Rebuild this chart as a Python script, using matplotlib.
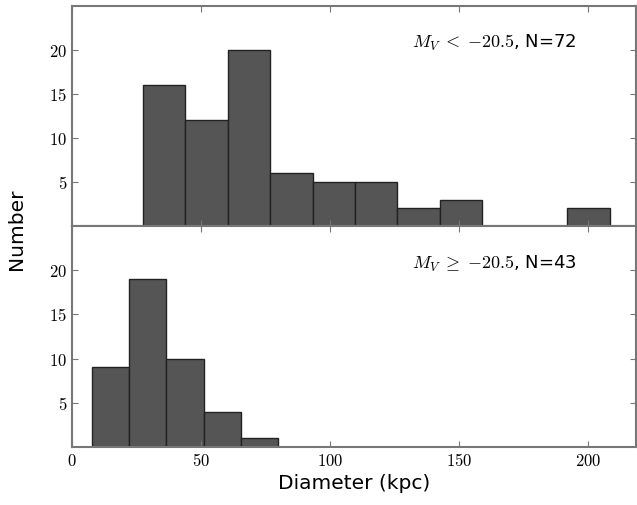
import matplotlib
matplotlib.use("Agg")
import matplotlib.pyplot as plt
from matplotlib.ticker import FuncFormatter
import numpy as np

# bin edges and counts
bright_edges = np.linspace(27.4, 208.3, 12)
bright_counts = [16, 12, 20, 6, 5, 5, 2, 3, 0, 0, 2]
faint_edges = np.linspace(7.6, 80.0, 6)
faint_counts = [9, 19, 10, 4, 1]

bright_label = r"$M_V\;<\;{-}20.5$, N=72"
faint_label = r"$M_V\;\geq\;{-}20.5$, N=43"

plt.rcParams['mathtext.fontset'] = 'cm'

fig = plt.figure(figsize=(6.37, 5.05), dpi=100)
ax1 = fig.add_axes([72/637, 1 - 226/505, 564/637, 220/505])
ax2 = fig.add_axes([72/637, 1 - 447/505, 564/637, 221/505], sharex=ax1)

mathfmt = FuncFormatter(lambda v, p: r"$%g$" % v)

for ax, edges, counts, label in [(ax1, bright_edges, bright_counts, bright_label),
                                 (ax2, faint_edges, faint_counts, faint_label)]:
	ax.hist(edges[:-1], bins=edges, weights=counts, color="#555555",
	        edgecolor="#222222", linewidth=1.0)
	ax.set_ylim(0, 25)
	ax.set_yticks([5, 10, 15, 20])
	ax.yaxis.set_major_formatter(mathfmt)
	ax.xaxis.set_major_formatter(mathfmt)
	ax.tick_params(direction="in", top=True, right=True, labelsize=12,
	               length=4, color="#777777")
	for s in ax.spines.values():
		s.set_color("#777777")
		s.set_linewidth(1.5)
	ax.text(0.895, 0.83, label, transform=ax.transAxes, ha="right",
	        va="center", fontsize=13)

ax1.set_xlim(0, 218.5)
ax1.set_xticks([0, 50, 100, 150, 200])
ax1.tick_params(labelbottom=False)
ax2.set_xlabel("Diameter (kpc)", fontsize=14.5, labelpad=3)
fig.text(17/637, 1 - 229/505, "Number", rotation=90, ha="center",
         va="center", fontsize=14.5)

fig.savefig("out.png", dpi=100)
